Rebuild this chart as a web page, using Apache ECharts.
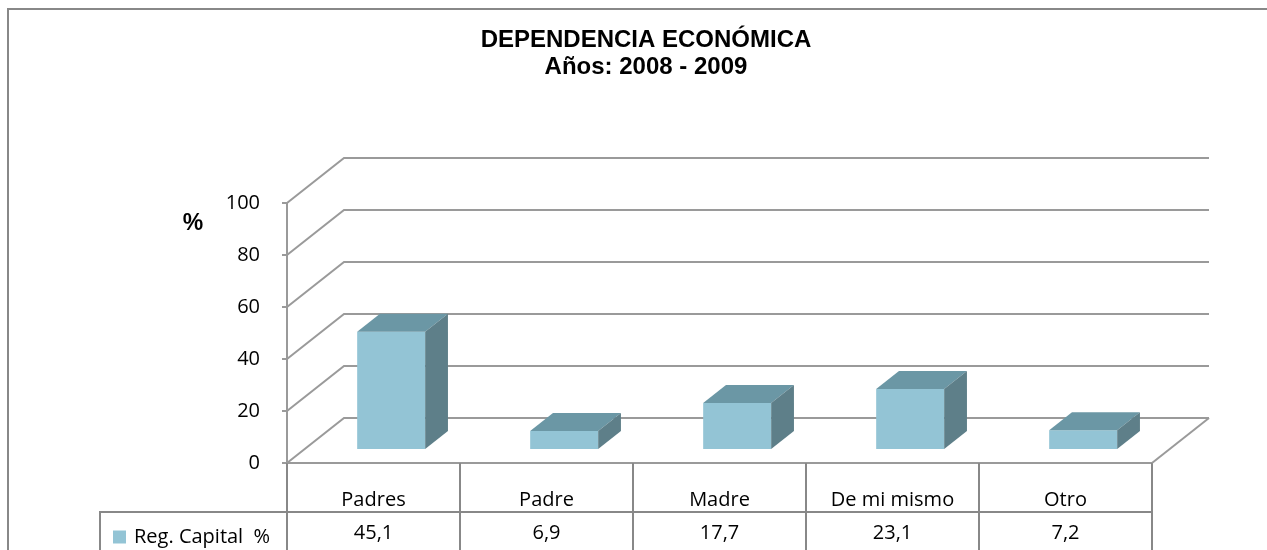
<!DOCTYPE html>
<html lang="es" style="background: #FFFFFF;height: 100%">

<head>
    <meta charset="utf-8" />
    <title>Dependencia económica</title>
    <script type="text/javascript" src="https://cdn.jsdelivr.net/npm/echarts@6/dist/echarts.min.js"></script>
</head>

<body style="margin: 0;height: 100%">
    <div id="chart" style="width:1267px;height:550px"></div>
    <script>
    // datos
    let categorias = ['Padres', 'Padre', 'Madre', 'De mi mismo', 'Otro']
    let regCapital = [45.1, 6.9, 17.7, 23.1, 7.2]
    let ticksY = [0, 20, 40, 60, 80, 100]
    let serieNombre = 'Reg. Capital  %'

    // profundidad del efecto 3D (px)
    let fondoX = 57
    let fondoY = -45
    let barraIni = 0.31 // cara frontal de la barra
    let barraFin = 0.71 // cara trasera
    let anchoBarra = 0.393

    let gris = '#9a9a9a'
    let colorFrente = '#93c4d5'
    let colorTapa = '#6b97a5'
    let colorLado = '#5e7f89'
    let fuente = '"Open Sans", sans-serif'
    let fuenteTitulo = '"Liberation Sans", Arial, sans-serif'

    let chart = echarts.init(document.getElementById('chart'))

    // paredes y piso
    function renderParedes(params, api) {
        let cs = params.coordSys
        let v = api.value(1)
        let y = api.coord([0, v])[1]
        let x0 = cs.x
        let x1 = cs.x + cs.width
        let hijos = [{
            type: 'polyline',
            shape: { points: [[x0, y], [x0 + fondoX, y + fondoY], [x1 + fondoX, y + fondoY]] },
            style: { stroke: gris, lineWidth: 2, fill: null }
        }]
        if (v === 0) {
            hijos.push({
                type: 'line',
                shape: { x1: x1, y1: y, x2: x1 + fondoX, y2: y + fondoY },
                style: { stroke: gris, lineWidth: 2 }
            })
        }
        return { type: 'group', children: hijos }
    }

    function renderBarras(params, api) {
        let i = api.value(0)
        let v = api.value(1)
        let base = api.coord([i, 0])
        let tope = api.coord([i, v])
        let w = api.size([1, 0])[0] * anchoBarra
        let xl = base[0] - w / 2 + fondoX * barraIni
        let yb = base[1] + fondoY * barraIni
        let yt = tope[1] + fondoY * barraIni
        let ddx = fondoX * (barraFin - barraIni)
        let ddy = fondoY * (barraFin - barraIni)
        return {
            type: 'group',
            children: [{
                type: 'rect',
                shape: { x: xl, y: yt, width: w, height: yb - yt },
                style: { fill: colorFrente }
            }, {
                type: 'polygon',
                shape: { points: [[xl, yt], [xl + w, yt], [xl + w + ddx, yt + ddy], [xl + ddx, yt + ddy]] },
                style: { fill: colorTapa }
            }, {
                type: 'polygon',
                shape: { points: [[xl + w, yt], [xl + w + ddx, yt + ddy], [xl + w + ddx, yb + ddy], [xl + w, yb]] },
                style: { fill: colorLado }
            }]
        }
    }

    function renderValores(params, api) {
        let cs = params.coordSys
        let i = api.value(0)
        let v = api.value(1)
        let p = api.coord([i, 0])
        return {
            type: 'text',
            x: p[0],
            y: cs.y + cs.height + 70,
            style: {
                text: v.toFixed(1).replace('.', ','),
                font: '20px ' + fuente,
                fill: '#000',
                align: 'center',
                verticalAlign: 'middle'
            }
        }
    }

    let option = {
        animation: false,
        backgroundColor: '#fff',
        title: {
            text: 'DEPENDENCIA ECONÓMICA\nAños: 2008 - 2009',
            left: 641,
            top: 22,
            textAlign: 'center',
            textStyle: {
                fontFamily: fuenteTitulo,
                fontWeight: 'bold',
                fontSize: 24,
                lineHeight: 27,
                color: '#000'
            }
        },
        legend: {
            data: [serieNombre],
            left: 108,
            top: 522,
            icon: 'rect',
            itemWidth: 13,
            itemHeight: 13,
            textStyle: { fontFamily: fuente, fontSize: 20, color: '#000', padding: [0, 0, 0, 3] }
        },
        grid: { left: 287, right: 115, top: 203, bottom: 87 },
        xAxis: {
            type: 'category',
            data: categorias,
            boundaryGap: true,
            axisLine: { lineStyle: { color: gris, width: 2 } },
            axisTick: { show: true, interval: 0, length: 87, lineStyle: { color: '#888', width: 2 } },
            axisLabel: { interval: 0, margin: 26, fontFamily: fuente, fontSize: 20, lineHeight: 22, color: '#000' }
        },
        yAxis: {
            type: 'value',
            min: 0,
            max: 100,
            interval: 20,
            axisLine: { show: true, lineStyle: { color: gris, width: 2 } },
            axisTick: { show: true, length: 5, lineStyle: { color: gris, width: 2 } },
            axisLabel: { margin: 27, fontFamily: fuente, fontSize: 20, color: '#000' },
            splitLine: { show: false }
        },
        graphic: [{
            type: 'rect',
            shape: { x: 8, y: 9, width: 1400, height: 700 },
            style: { fill: null, stroke: '#888', lineWidth: 2 },
            z: -1
        }, {
            type: 'polyline',
            shape: { points: [[100, 550], [100, 512], [1152, 512]] },
            style: { fill: null, stroke: '#888', lineWidth: 2 }
        }, {
            type: 'text',
            x: 193,
            y: 224,
            style: {
                text: '%',
                font: 'bold 23px ' + fuenteTitulo,
                fill: '#000',
                align: 'center',
                verticalAlign: 'middle'
            }
        }],
        series: [{
            name: 'paredes',
            type: 'custom',
            renderItem: renderParedes,
            data: ticksY.map(v => [0, v]),
            silent: true,
            z: 1
        }, {
            name: serieNombre,
            type: 'custom',
            renderItem: renderBarras,
            itemStyle: { color: colorFrente },
            data: regCapital.map((v, i) => [i, v]),
            z: 3
        }, {
            name: 'valores',
            type: 'custom',
            renderItem: renderValores,
            data: regCapital.map((v, i) => [i, v]),
            silent: true,
            z: 3
        }]
    }
    chart.setOption(option)
    </script>
</body>

</html>
